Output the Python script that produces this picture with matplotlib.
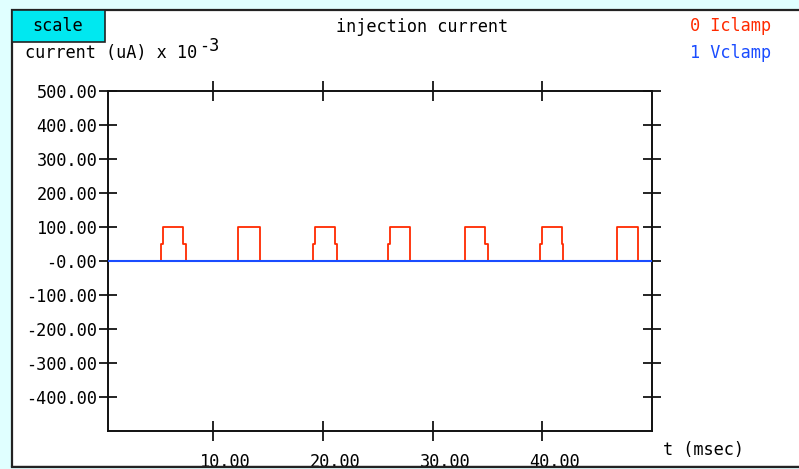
import matplotlib
matplotlib.use("Agg")
import matplotlib.pyplot as plt
from matplotlib.patches import Rectangle

# ---- data ----
# Iclamp step trace: change times (msec) and new current value (uA x 1e-3)
iclamp_change_t = [0.4, 5.25, 5.40, 7.27, 7.49,
                   12.27, 14.25,
                   19.09, 19.31, 21.06, 21.25,
                   25.91, 26.13, 27.97,
                   32.97, 34.79, 35.06,
                   39.79, 39.95, 41.82, 41.90,
                   46.82, 48.73, 50.0]
iclamp_value = [0, 50, 100, 50, 0,
                100, 0,
                50, 100, 50, 0,
                50, 100, 0,
                100, 50, 0,
                50, 100, 50, 0,
                100, 0, 0]
vclamp_t = [0.4, 50.0]
vclamp_value = [0, 0]

x_ticks = [10, 20, 30, 40]
x_tick_labels = ["10.00", "20.00", "30.00", "40.00"]
y_ticks = [-400, -300, -200, -100, 0, 100, 200, 300, 400, 500]
y_tick_labels = ["-400.00", "-300.00", "-200.00", "-100.00", "-0.00",
                 "100.00", "200.00", "300.00", "400.00", "500.00"]
series_names = ["0 Iclamp", "1 Vclamp"]
series_colors = ["#ff2a00", "#1a4cff"]

W, H = 799, 469
fig = plt.figure(figsize=(W / 100, H / 100), dpi=100)
fig.patch.set_facecolor("#e0ffff")

FONT = "DejaVu Sans Mono"
FS = 12.2


def fx(px):
    return px / W


def fy(py):
    return 1 - py / H


# white panel
fig.patches.append(Rectangle((fx(12), fy(467)), fx(799) - fx(12) + 0.01, fy(10) - fy(467),
                             transform=fig.transFigure, facecolor="white",
                             edgecolor="#222222", linewidth=1.6, zorder=-2))
# scale button
fig.patches.append(Rectangle((fx(12), fy(42)), fx(105) - fx(12), fy(10) - fy(42),
                             transform=fig.transFigure, facecolor="#00e8f0",
                             edgecolor="#222222", linewidth=1.2, zorder=-1))
fig.text(fx(58), fy(26), "scale", family=FONT, fontsize=FS, ha="center", va="center")

ax = fig.add_axes([fx(108), fy(431), fx(652) - fx(108), fy(91) - fy(431)])
ax.set_zorder(2)
ax.set_facecolor("none")
ax.set_xlim(0.4, 50.0)
ax.set_ylim(-500, 500)

ax.plot(iclamp_change_t, iclamp_value, drawstyle="steps-post",
        color=series_colors[0], linewidth=1.3, zorder=2)
ax.plot(vclamp_t, vclamp_value, color=series_colors[1], linewidth=1.5, zorder=3)

for s in ["left", "bottom", "top", "right"]:
    ax.spines[s].set_linewidth(1.4)
    ax.spines[s].set_color("#111111")

ax.set_xticks(x_ticks)
ax.set_xticklabels([])
ax.set_yticks(y_ticks)
ax.set_yticklabels(y_tick_labels, family=FONT, fontsize=FS)
ax.tick_params(axis="x", direction="inout", length=14.4, width=1.2,
               top=True, bottom=True, labelbottom=False)
ax.tick_params(axis="y", direction="inout", length=13.5, width=1.2,
               left=True, right=True, pad=1)

for t, lab in zip(x_ticks, x_tick_labels):
    px = ax.transData.transform((t, 0))[0]
    fig.text((px - 13) / W, fy(461.5), lab, family=FONT, fontsize=FS,
             ha="left", va="center", zorder=1)

fig.text(fx(663), fy(450), "t (msec)", family=FONT, fontsize=FS, ha="left", va="center")
fig.text(fx(422), fy(27), "injection current", family=FONT, fontsize=FS,
         ha="center", va="center")
fig.text(fx(690), fy(26), series_names[0], family=FONT, fontsize=FS,
         color=series_colors[0], ha="left", va="center")
fig.text(fx(690), fy(53), series_names[1], family=FONT, fontsize=FS,
         color=series_colors[1], ha="left", va="center")

ylab = fig.text(fx(25), fy(53), "current (uA) x 10", family=FONT, fontsize=FS,
                ha="left", va="center")
fig.canvas.draw()
bb = ylab.get_window_extent()
fig.text(bb.x1 / W + 0.002, fy(46), "-3", family=FONT, fontsize=FS, ha="left", va="center")

# bottom border strip over clipped labels
fig.patches.append(Rectangle((0, 0), 1, fy(467), transform=fig.transFigure,
                             facecolor="#e0ffff", edgecolor="none", zorder=5))
fig.add_artist(plt.Line2D([fx(12), 1], [fy(467), fy(467)], transform=fig.transFigure,
                          color="#222222", linewidth=1.6, zorder=6))

fig.savefig("out.png", dpi=100, facecolor=fig.get_facecolor())
